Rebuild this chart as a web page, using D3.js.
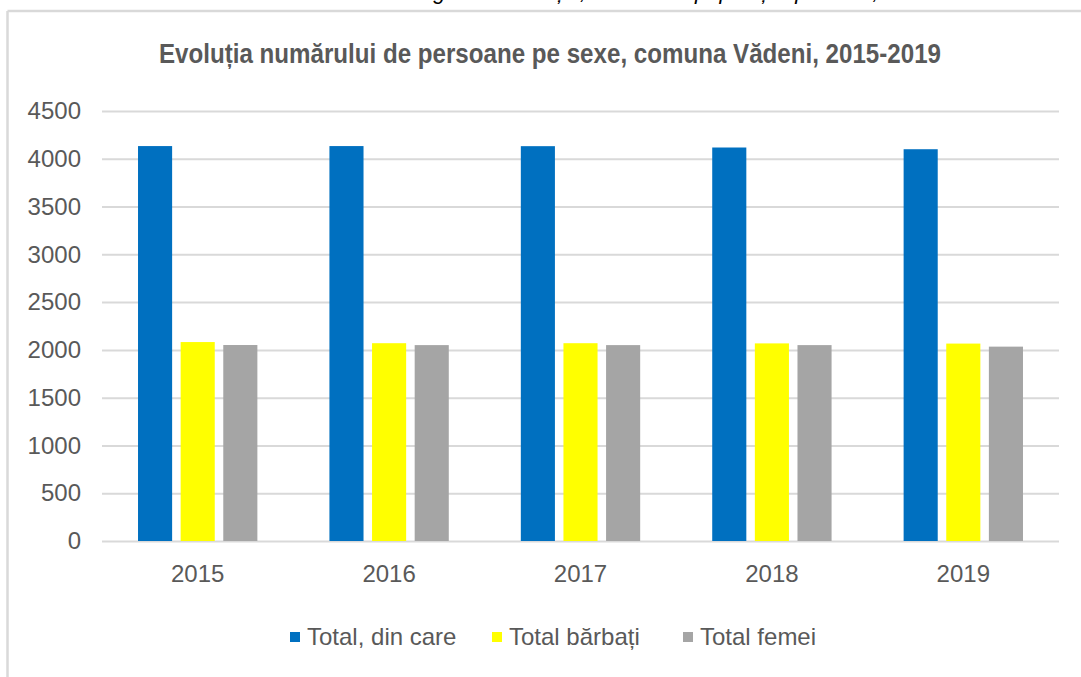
<!DOCTYPE html>
<html>
<head>
<meta charset="utf-8">
<script src="https://cdn.jsdelivr.net/npm/d3@7"></script>
<style>
  body { margin: 0; background: #fff; }
  svg { display: block; }
</style>
</head>
<body>
<svg id="js-svg" width="1081" height="677"></svg>
<script>
const years = ["2015", "2016", "2017", "2018", "2019"];
const seriesNames = ["Total, din care", "Total bărbați", "Total femei"];
const seriesColors = ["#0070C0", "#FFFF00", "#A5A5A5"];
const totalValues = [4133, 4133, 4132, 4118, 4100];
const barbatiValues = [2082, 2070, 2070, 2068, 2066];
const femeiValues = [2051, 2050, 2050, 2050, 2034];
const yTicks = [0, 500, 1000, 1500, 2000, 2500, 3000, 3500, 4000, 4500];

const seriesValues = [totalValues, barbatiValues, femeiValues];
const width = 1081;
const height = 677;
const plotLeft = 102;
const plotRight = 1059;
const plotTop = 111;
const plotBottom = 541;
const textColor = "#595959";
const gridColor = "#d9d9d9";
const font = "'Liberation Sans', Arial, sans-serif";

const svg = d3.select("#js-svg");

// caption of the document, mostly cut off at the top of the picture
svg
  .append("text")
  .attr("x", 415)
  .attr("y", -1.5)
  .attr("font-family", font)
  .attr("font-style", "italic")
  .attr("font-size", 22)
  .attr("fill", "#000")
  .text("Figura 2 Evoluția, numărului populației pe sexe, comuna Vădeni");

// chart frame (left and top edges only are visible)
svg
  .append("line")
  .attr("x1", 7.5)
  .attr("x2", width)
  .attr("y1", 11)
  .attr("y2", 11)
  .style("stroke", gridColor)
  .style("stroke-width", "2.5px");
svg
  .append("line")
  .attr("x1", 7.5)
  .attr("x2", 7.5)
  .attr("y1", 11)
  .attr("y2", height)
  .style("stroke", gridColor)
  .style("stroke-width", "2.5px");

svg
  .append("text")
  .attr("x", 550)
  .attr("y", 63)
  .attr("text-anchor", "middle")
  .attr("font-family", "'Liberation Sans Narrow', " + font)
  .attr("font-weight", "bold")
  .attr("font-size", 27)
  .attr("fill", textColor)
  .attr("textLength", 782)
  .attr("lengthAdjust", "spacingAndGlyphs")
  .text("Evoluția numărului  de persoane pe sexe, comuna Vădeni, 2015-2019");

const x = d3.scaleBand().domain(years).range([plotLeft, plotRight]);
const xInner = d3
  .scaleBand()
  .domain(d3.range(seriesNames.length))
  .range([0, x.bandwidth()])
  .paddingInner(0.2)
  .paddingOuter(0.845);
const y = d3.scaleLinear().domain([0, 4500]).range([plotBottom, plotTop]);

// value axis with gridlines
const yAxis = svg
  .append("g")
  .attr("transform", `translate(${plotLeft},0)`)
  .call(
    d3
      .axisLeft(y)
      .tickValues(yTicks)
      .tickSize(-(plotRight - plotLeft))
      .tickPadding(21)
      .tickFormat(d3.format("d"))
  );
yAxis.select(".domain").remove();
yAxis
  .selectAll("line")
  .style("stroke", gridColor)
  .style("stroke-width", "2px");
yAxis
  .selectAll("text")
  .attr("font-family", font)
  .attr("font-size", 24)
  .attr("fill", textColor);

// bars
const groups = svg
  .append("g")
  .selectAll("g")
  .data(years)
  .join("g")
  .attr("transform", (d) => `translate(${x(d)},0)`);

groups
  .selectAll("rect")
  .data((d, i) => seriesValues.map((vals, s) => ({ s, v: vals[i] })))
  .join("rect")
  .attr("x", (d) => xInner(d.s))
  .attr("width", xInner.bandwidth())
  .attr("y", (d) => y(d.v))
  .attr("height", (d) => plotBottom - y(d.v))
  .style("fill", (d) => seriesColors[d.s]);

// category axis labels
const xAxis = svg
  .append("g")
  .attr("transform", `translate(0,${plotBottom})`)
  .call(d3.axisBottom(x).tickSize(0).tickPadding(24));
xAxis.select(".domain").remove();
xAxis
  .selectAll("text")
  .attr("font-family", font)
  .attr("font-size", 24)
  .attr("fill", textColor);

// legend
const legendX = [290, 492, 683];
const legend = svg
  .append("g")
  .selectAll("g")
  .data(seriesNames)
  .join("g")
  .attr("transform", (d, i) => `translate(${legendX[i]},632)`);
legend
  .append("rect")
  .attr("width", 10)
  .attr("height", 10)
  .style("fill", (d, i) => seriesColors[i]);
legend
  .append("text")
  .attr("x", 17)
  .attr("y", 13)
  .attr("font-family", font)
  .attr("font-size", 24)
  .attr("fill", textColor)
  .text((d) => d);
</script>
</body>
</html>
